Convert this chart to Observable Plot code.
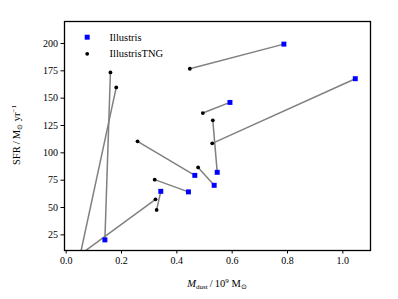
<!DOCTYPE html>
<html><head><meta charset="utf-8">
<script src="https://cdn.jsdelivr.net/npm/d3@7"></script>
<script src="https://cdn.jsdelivr.net/npm/@observablehq/plot@0.6"></script>
<style>body{margin:0;background:#fff}</style></head>
<body><div id="chart"></div>
<script>
// Paired galaxies: Illustris (blue squares) vs IllustrisTNG (black dots)
const illustrisDust = [0.140, 0.045, 0.787, 0.465, 0.442, 0.342, 0.013, 0.535, 0.592, 0.546, 1.045];
const illustrisSFR  = [20.4, 0, 199.4, 79.4, 64.3, 64.8, 0, 70.3, 146.1, 82.2, 167.8];
const tngDust = [0.160, 0.181, 0.447, 0.258, 0.320, 0.327, 0.323, 0.477, 0.494, 0.530, 0.528];
const tngSFR  = [173.5, 159.8, 176.9, 110.5, 75.5, 47.8, 57.5, 86.7, 136.4, 129.7, 108.7];
const xTicks = [0.0, 0.2, 0.4, 0.6, 0.8, 1.0];
const yTicks = [25, 50, 75, 100, 125, 150, 175, 200];
const seriesNames = ["Illustris", "IllustrisTNG"];

const pairs = illustrisDust.map((d, i) => ({x1: d, y1: illustrisSFR[i], x2: tngDust[i], y2: tngSFR[i]}));
const ill = illustrisDust.map((d, i) => ({x: d, y: illustrisSFR[i]}));
const tng = tngDust.map((d, i) => ({x: d, y: tngSFR[i]}));

const chart = Plot.plot({
  width: 398, height: 299,
  marginLeft: 64, marginRight: 28, marginTop: 21, marginBottom: 49,
  style: {fontFamily: "Liberation Serif", fontSize: "10px", color: "black", background: "white"},
  x: {domain: [-0.006, 1.10]},
  y: {domain: [10.7, 220.1]},
  marks: [
    Plot.link(pairs, {x1: "x1", y1: "y1", x2: "x2", y2: "y2", stroke: "#808080", strokeWidth: 1.5, clip: true}),
    Plot.dot(tng, {x: "x", y: "y", fill: "black", r: 1.9, clip: true}),
    Plot.dot(ill, {x: "x", y: "y", fill: "#0000ff", symbol: "square", r: 2.8, clip: true}),
    Plot.axisX({ticks: xTicks, tickFormat: d3.format(".1f"), tickSize: 3.5, tickPadding: 3, label: null, stroke: "black"}),
    Plot.axisY({ticks: yTicks, tickSize: 3.5, tickPadding: 3, label: null, stroke: "black"}),
    Plot.frame({stroke: "black", strokeWidth: 1.3}),
    Plot.dot([seriesNames[0]], {frameAnchor: "top-left", dx: 22.7, dy: 15.7, fill: "#0000ff", symbol: "square", r: 2.8}),
    Plot.dot([seriesNames[1]], {frameAnchor: "top-left", dx: 22.7, dy: 32.3, fill: "black", r: 1.9}),
    Plot.text([seriesNames[0]], {text: d => d, frameAnchor: "top-left", lineAnchor: "middle", dx: 45, dy: 15.7, textAnchor: "start", fontSize: 10.5, fill: "black"}),
    Plot.text([seriesNames[1]], {text: d => d, frameAnchor: "top-left", lineAnchor: "middle", dx: 45, dy: 32.3, textAnchor: "start", fontSize: 10.5, fill: "black"})
  ]
});
document.getElementById("chart").appendChild(chart);

const svg = d3.select(chart);
// x axis label
const xl = svg.append("text").attr("x", 217).attr("y", 287).attr("text-anchor", "middle")
  .attr("font-family", "Liberation Serif").attr("font-size", 10.5).attr("fill", "black");
xl.append("tspan").attr("font-style", "italic").text("M");
xl.append("tspan").attr("font-size", 7).attr("dy", 2).text("dust");
xl.append("tspan").attr("dy", -2).text("\u2009/\u200910");
xl.append("tspan").attr("font-size", 7).attr("dy", -4).text("9");
xl.append("tspan").attr("dy", 4).text(" M");
xl.append("tspan").attr("font-size", 7).attr("dy", 2).text("\u2299");
// y axis label
const yl = svg.append("text").attr("transform", "translate(20,135) rotate(-90)").attr("text-anchor", "middle")
  .attr("font-family", "Liberation Serif").attr("font-size", 10.5).attr("fill", "black");
yl.append("tspan").text("SFR\u2009/\u2009M");
yl.append("tspan").attr("font-size", 7).attr("dy", 2).text("\u2299");
yl.append("tspan").attr("dy", -2).text(" yr");
yl.append("tspan").attr("font-size", 7).attr("dy", -4).text("\u22121");
</script>
</body></html>
